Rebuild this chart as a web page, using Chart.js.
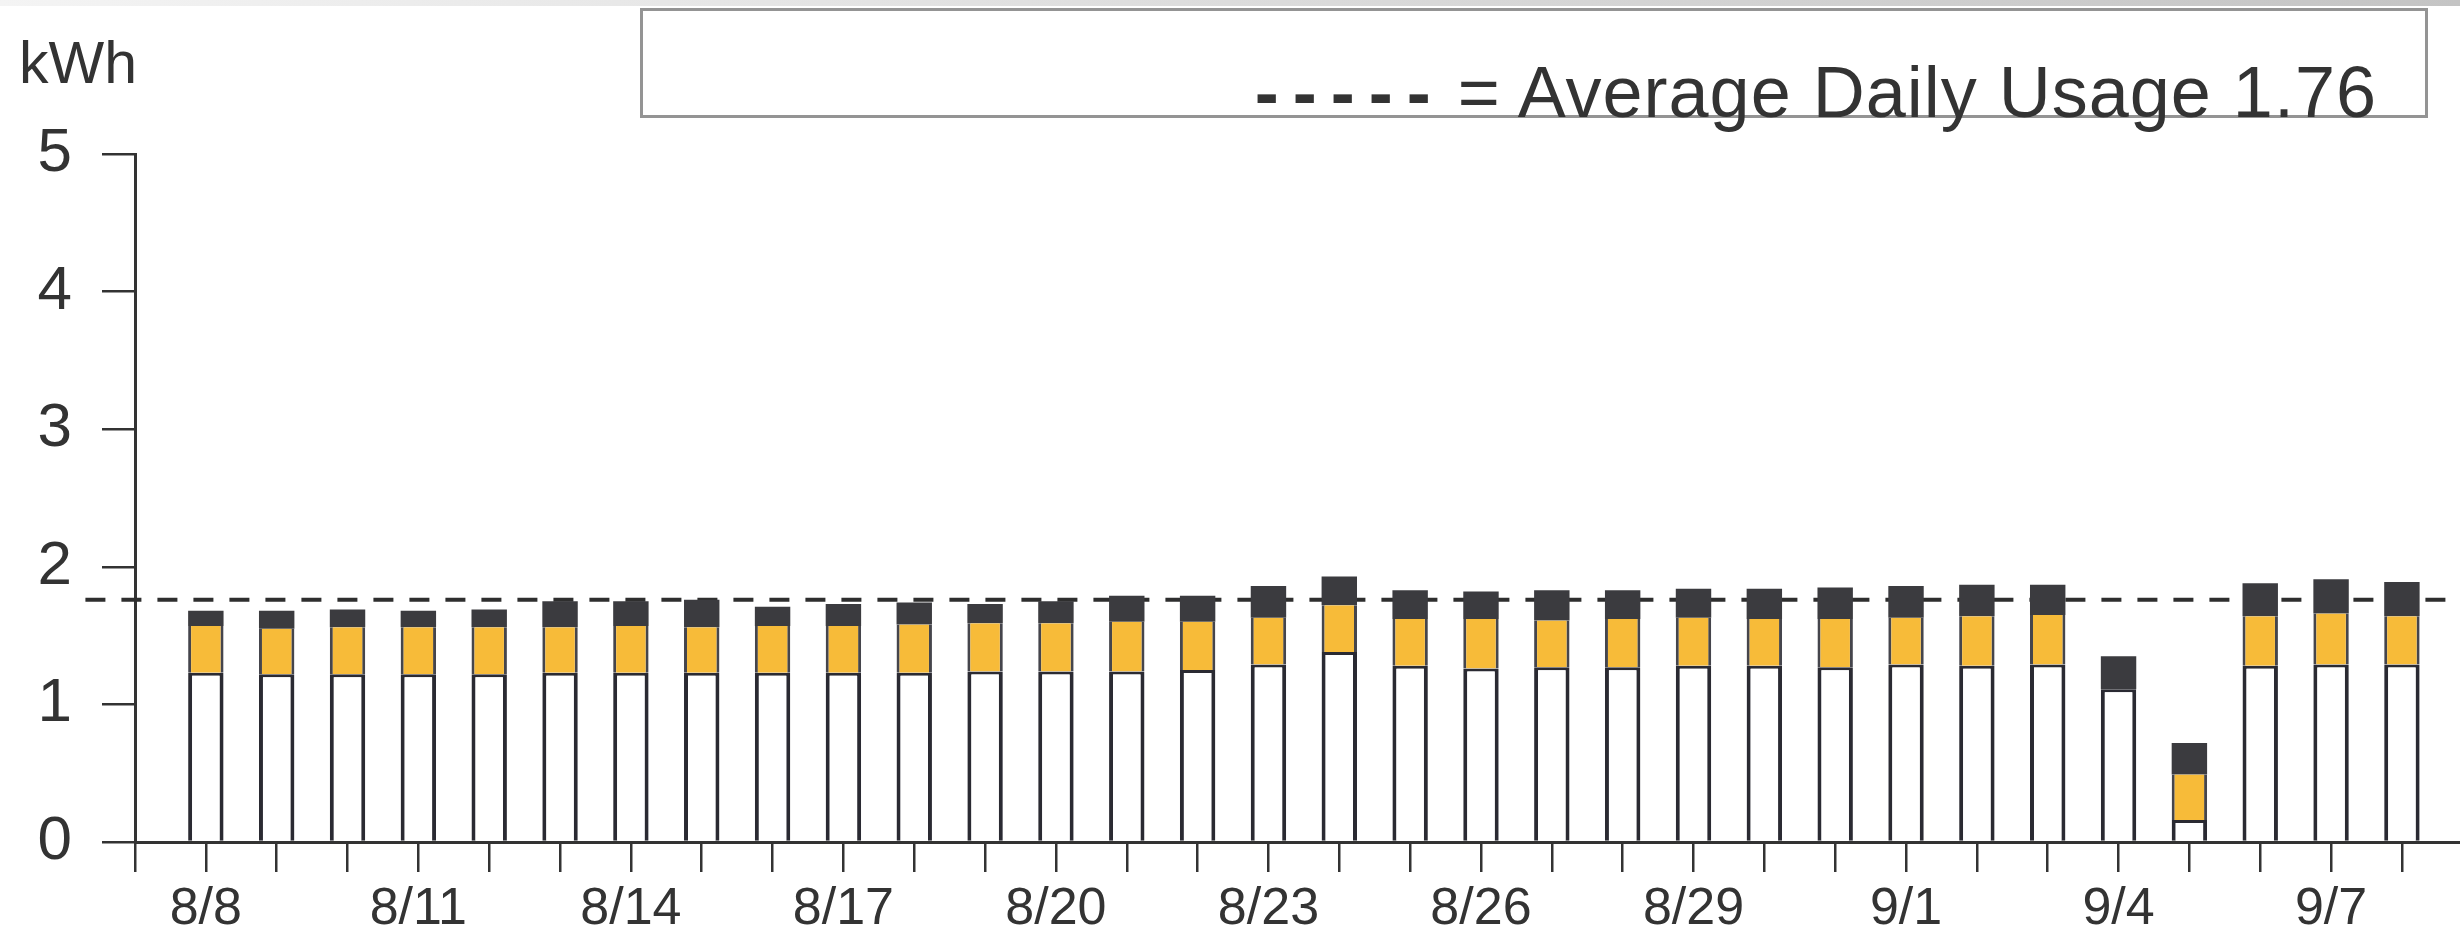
<!DOCTYPE html>
<html>
<head>
<meta charset="utf-8">
<script src="https://cdn.jsdelivr.net/npm/chart.js@4.4.1/dist/chart.umd.min.js"></script>
<style>
  body { margin: 0; background: #fff; }
  #wrap { position: relative; width: 2460px; height: 933px; overflow: hidden; font-family: "Liberation Sans", Arial, sans-serif; color: #333; }
  #topEdge { position: absolute; left: 0; top: 0; width: 100%; height: 6px; background: linear-gradient(to right, #f4f4f4, #c4c4c4); }
  #unit { position: absolute; left: 19px; top: 34px; font-size: 59px; line-height: 1; }
  #avgBox { position: absolute; left: 640px; top: 8px; width: 1782px; height: 104px; border: 3px solid #949494; }
  #avgText { position: absolute; right: 48px; top: 45px; font-size: 72px; line-height: 1; letter-spacing: 1px; white-space: nowrap; }
  #avgText .dash { font-weight: bold; letter-spacing: 14px; margin-right: -8px; }
  #chartBox { position: absolute; left: 0; top: 0; width: 2460px; height: 933px; }
</style>
</head>
<body>
<div id="wrap">
  <div id="topEdge"></div>
  <div id="chartBox"><canvas id="usageChart"></canvas></div>
  <div id="unit">kWh</div>
  <div id="avgBox"><div id="avgText"><span class="dash">-----</span> = Average Daily Usage <span id="avgValue"></span></div></div>
</div>
<script>
// dagsforbrug i kWh, delt i tre lag (hvid bund, gul midte, mørk top)
const days = ['8/8', '8/9', '8/10', '8/11', '8/12', '8/13', '8/14', '8/15', '8/16', '8/17', '8/18',
  '8/19', '8/20', '8/21', '8/22', '8/23', '8/24', '8/25', '8/26', '8/27', '8/28', '8/29', '8/30',
  '8/31', '9/1', '9/2', '9/3', '9/4', '9/5', '9/6', '9/7', '9/8'];
const baseUse = [1.23, 1.22, 1.22, 1.22, 1.22, 1.23, 1.23, 1.23, 1.23, 1.23, 1.23,
  1.24, 1.24, 1.24, 1.25, 1.29, 1.38, 1.28, 1.26, 1.27, 1.27, 1.28, 1.28,
  1.27, 1.29, 1.28, 1.29, 1.11, 0.16, 1.28, 1.29, 1.29];
const midUse = [0.34, 0.33, 0.34, 0.34, 0.34, 0.33, 0.34, 0.33, 0.34, 0.34, 0.35,
  0.35, 0.35, 0.36, 0.35, 0.34, 0.34, 0.34, 0.36, 0.34, 0.35, 0.35, 0.34,
  0.35, 0.34, 0.36, 0.36, 0, 0.33, 0.36, 0.37, 0.35];
const peakUse = [0.11, 0.13, 0.13, 0.12, 0.13, 0.19, 0.18, 0.20, 0.14, 0.16, 0.16,
  0.14, 0.16, 0.19, 0.19, 0.23, 0.21, 0.21, 0.20, 0.22, 0.21, 0.21, 0.22,
  0.23, 0.23, 0.23, 0.22, 0.24, 0.23, 0.24, 0.25, 0.25];
const avgUsage = 1.76;
const yTicks = [0, 1, 2, 3, 4, 5];
const labelEvery = 3; // kun hver tredje dato får en tekst

document.getElementById('avgValue').textContent = avgUsage.toFixed(2);

Chart.defaults.font.family = '"Liberation Sans", Arial, sans-serif';
Chart.defaults.color = '#333';

// x-aksen er lineær, så y-aksen står en hel dag før første søjle
const xMin = -1;
const xMax = days.length - 0.18;

const toPoints = arr => arr.map((v, i) => ({ x: i, y: v }));

const ctx = document.getElementById('usageChart').getContext('2d');
new Chart(ctx, {
  type: 'bar',
  data: {
    datasets: [
      {
        data: toPoints(baseUse),
        backgroundColor: '#ffffff',
        borderColor: '#2a2a32',
        borderWidth: { left: 4, right: 4, top: 3, bottom: 0 },
        borderSkipped: false,
        stack: 'use'
      },
      {
        data: toPoints(midUse),
        backgroundColor: '#f7bb39',
        borderColor: '#45454c',
        borderWidth: { left: 3, right: 3, top: 0, bottom: 0 },
        borderSkipped: false,
        stack: 'use'
      },
      {
        data: toPoints(peakUse),
        backgroundColor: '#3b3b3f',
        borderWidth: 0,
        stack: 'use'
      },
      {
        // gennemsnitslinjen, tegnes bag søjlerne
        type: 'line',
        data: [{ x: xMin - 0.7, y: avgUsage }, { x: xMax, y: avgUsage }],
        borderColor: '#2e2e2e',
        borderWidth: 4,
        borderDash: [20, 16],
        pointRadius: 0,
        fill: false,
        clip: false,
        stack: 'avg',
        order: 10
      }
    ]
  },
  options: {
    responsive: true,
    maintainAspectRatio: false,
    animation: false,
    layout: { padding: { top: 154, right: 0, bottom: 0, left: 0 } },
    plugins: {
      legend: { display: false },
      tooltip: { enabled: false }
    },
    datasets: {
      bar: { categoryPercentage: 1, barPercentage: 0.5 }
    },
    scales: {
      x: {
        type: 'linear',
        stacked: true,
        offset: false,
        min: xMin,
        max: xMax,
        afterFit: scale => { scale.height = 91; },
        grid: { offset: false, drawOnChartArea: false, tickLength: 30, lineWidth: 2.5, color: '#333' },
        border: { display: true, color: '#333', width: 3 },
        ticks: {
          stepSize: 1,
          autoSkip: false,
          includeBounds: false,
          maxRotation: 0,
          padding: 6,
          font: { size: 52 },
          callback: v => (Number.isInteger(v) && v >= 0 && v % labelEvery === 0 ? days[v] : '')
        }
      },
      y: {
        stacked: true,
        min: yTicks[0],
        max: yTicks[yTicks.length - 1],
        afterFit: scale => { scale.width = 135; },
        afterBuildTicks: scale => { scale.ticks = yTicks.map(v => ({ value: v })); },
        grid: { drawOnChartArea: false, tickLength: 33, lineWidth: 2.5, color: '#333' },
        border: { display: true, color: '#333', width: 3 },
        ticks: { padding: 30, font: { size: 62 } }
      }
    }
  }
});
</script>
</body>
</html>
